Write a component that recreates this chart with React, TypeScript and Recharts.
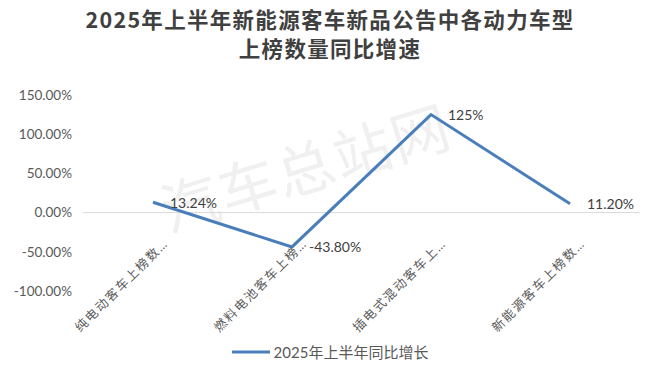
import { LabelList, Line, LineChart, ReferenceLine, XAxis, YAxis } from "recharts";

const categories = ["纯电动客车上榜数…", "燃料电池客车上榜…", "插电式混动客车上…", "新能源客车上榜数…"];
const growth = [13.24, -43.8, 125, 11.2];
const growthLabels = ["13.24%", "-43.80%", "125%", "11.20%"];
const yTicks = [-100, -50, 0, 50, 100, 150];

const seriesName = "2025年上半年同比增长";
const titleLines = ["2025年上半年新能源客车新品公告中各动力车型", "上榜数量同比增速"];

const data = categories.map((name, i) => ({ name, growth: growth[i], label: growthLabels[i] }));

const FONT = "Lato, 'Noto Sans CJK SC', sans-serif";
const LINE_COLOR = "#4a7ebb";

function CategoryTick({ x, y, payload }: any) {
  return (
    <text
      x={0}
      y={0}
      transform={`translate(${x + 16}, ${y - 47}) rotate(-45)`}
      textAnchor="end"
      fill="#595959"
      fontSize={12.5}
      letterSpacing={1.8}
      fontFamily={FONT}
    >
      {payload.value}
    </text>
  );
}

function PointLabel({ x, y, value }: any) {
  return (
    <text x={x + 17} y={y + 2} dominantBaseline="middle" fill="#404040" fontSize={14} fontFamily={FONT}>
      {value}
    </text>
  );
}

export default function App() {
  return (
    <div style={{ position: "absolute", left: 0, top: 0, width: 660, height: 377, background: "#fff", overflow: "hidden" }}>
      <div
        style={{
          position: "absolute",
          left: 0,
          top: 4,
          width: 660,
          textAlign: "center",
          fontFamily: "'Noto Sans CJK SC', sans-serif",
          fontWeight: 700,
          fontSize: 21.5,
          lineHeight: "29px",
          color: "#404040",
          letterSpacing: 1.3,
        }}
      >
        {titleLines.map((t) => (
          <div key={t}>{t}</div>
        ))}
      </div>
      <div
        style={{
          position: "absolute",
          left: 305,
          top: 165,
          transform: "translate(-50%, -50%) rotate(-17deg)",
          fontFamily: "'Noto Sans CJK SC', sans-serif",
          fontSize: 58,
          color: "#f0f0f0",
          whiteSpace: "nowrap",
          letterSpacing: 2,
        }}
      >
        汽车总站网
      </div>
      <LineChart width={660} height={377} data={data} margin={{ top: 95, right: 20, bottom: 85, left: 0 }} style={{ position: "absolute", left: 0, top: 0 }}>
        <XAxis
          dataKey="name"
          axisLine={false}
          tickLine={false}
          height={1}
          tickSize={0}
          tickMargin={0}
          interval={0}
          padding={{ left: 70, right: 70 }}
          tick={<CategoryTick />}
        />
        <YAxis
          type="number"
          domain={[-100, 150]}
          ticks={yTicks}
          width={83}
          axisLine={false}
          tickLine={false}
          tickSize={0}
          tickMargin={11}
          tickFormatter={(v: number) => `${v.toFixed(2)}%`}
          tick={{ fill: "#595959", fontSize: 13.5, fontFamily: FONT }}
        />
        <ReferenceLine y={0} stroke="#d9d9d9" strokeWidth={1} />
        <Line
          dataKey="growth"
          name={seriesName}
          stroke={LINE_COLOR}
          strokeWidth={3}
          dot={false}
          activeDot={false}
          isAnimationActive={false}
        >
          <LabelList dataKey="label" content={<PointLabel />} />
        </Line>
      </LineChart>
      <div
        style={{
          position: "absolute",
          left: 0,
          top: 341,
          width: 660,
          display: "flex",
          alignItems: "center",
          justifyContent: "center",
          fontFamily: FONT,
          fontSize: 15,
          color: "#595959",
        }}
      >
        <svg width={38} height={6} style={{ marginRight: 4 }}>
          <line x1={0} y1={3} x2={38} y2={3} stroke={LINE_COLOR} strokeWidth={3} />
        </svg>
        <span>{seriesName}</span>
      </div>
    </div>
  );
}
